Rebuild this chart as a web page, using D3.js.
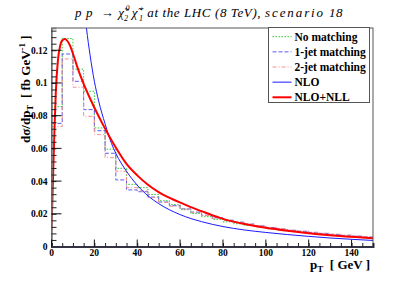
<!DOCTYPE html>
<html lang="en">
<head>
<meta charset="UTF-8">
<title>pp -> chi2 chi1 pT</title>
<style>
  body { margin: 0; background: #fff; }
  svg { display: block; }
  svg text { font-family: "Liberation Serif", "DejaVu Serif", serif; }
  svg .tick-label { font-size: 9.5px; font-weight: bold; fill: #000; }
  svg .axis-title { font-size: 13px; font-weight: bold; fill: #000; }
  svg .legend-text { font-size: 11.5px; font-weight: bold; fill: #000; }
  svg .title { font-size: 13px; font-style: italic; fill: #000; }
</style>
</head>
<body>
<div id="chart"></div>
<script src="https://cdnjs.cloudflare.com/ajax/libs/d3/7.8.5/d3.min.js"></script>
<script>
  // histogram bins (lower edges, GeV), last bin ends at 150
  var binLow = [0, 5, 10, 15, 20, 25, 30, 35, 40, 45, 50, 55, 60, 65, 70,
    75, 80, 85, 90, 95, 100, 105, 110, 115, 120, 125, 130, 135, 140, 145];
  var binHigh = 150;

  var noMatching = [0.0855, 0.1272, 0.1084, 0.0949, 0.0725, 0.0595, 0.0478, 0.0380, 0.0360, 0.0318,
    0.0280, 0.0256, 0.0225, 0.0202, 0.0182, 0.0166, 0.0151, 0.0139, 0.0129, 0.0119,
    0.0109, 0.0101, 0.0094, 0.0088, 0.0081, 0.0074, 0.0068, 0.0062, 0.0058, 0.0053];
  var oneJet = [0.0753, 0.1177, 0.1010, 0.0837, 0.0708, 0.0570, 0.0407, 0.0346, 0.0335, 0.0302,
    0.0272, 0.0250, 0.0230, 0.0210, 0.0191, 0.0176, 0.0161, 0.0149, 0.0137, 0.0126,
    0.0116, 0.0107, 0.0099, 0.0093, 0.0086, 0.0080, 0.0074, 0.0068, 0.0063, 0.0058];
  var twoJet = [0.0733, 0.1147, 0.0974, 0.0796, 0.0684, 0.0543, 0.0460, 0.0360, 0.0340, 0.0300,
    0.0270, 0.0246, 0.0229, 0.0209, 0.0190, 0.0173, 0.0159, 0.0147, 0.0137, 0.0127,
    0.0117, 0.0108, 0.0100, 0.0094, 0.0087, 0.0081, 0.0075, 0.0070, 0.0064, 0.0059];

  // smooth curves: [pT, value]
  var nloPts = [[12.5, 0.210], [14, 0.170], [15, 0.150], [16.3, 0.1336], [18, 0.117], [20, 0.101],
    [22, 0.089], [25, 0.075], [28, 0.063], [30, 0.057], [35, 0.046], [40, 0.0375],
    [45, 0.031], [50, 0.0262], [60, 0.0195], [70, 0.0152], [80, 0.0122], [90, 0.0101],
    [100, 0.0086], [110, 0.0073], [120, 0.0062], [130, 0.0052], [140, 0.0044], [150, 0.0037]];
  var nllPts = [[0, 0.010], [0.5, 0.032], [1, 0.055], [1.5, 0.076], [2, 0.094], [3, 0.114],
    [4, 0.1225], [5, 0.1260], [6.3, 0.1268], [7.5, 0.1255], [8.6, 0.1230], [10, 0.1180],
    [11, 0.1140], [12.5, 0.1080], [15, 0.0995], [18, 0.0905], [21, 0.0822], [24, 0.0745],
    [27, 0.0673], [30, 0.0605], [35, 0.0505], [40, 0.0435], [45, 0.0378], [50, 0.0333],
    [56, 0.0292], [62, 0.0258], [66, 0.0236], [70, 0.0216], [75, 0.0191], [80, 0.0169],
    [90, 0.0137], [100, 0.0114], [110, 0.0096], [120, 0.0081], [130, 0.0069], [140, 0.0059],
    [150, 0.0050]];

  var xTicks = [0, 20, 40, 60, 80, 100, 120, 140];
  var yTicks = [0, 0.02, 0.04, 0.06, 0.08, 0.1, 0.12];
  var yTickLabels = ['0', '0.02', '0.04', '0.06', '0.08', '0.1', '0.12'];

  var width = 415, height = 281;
  var plot = {left: 51.5, right: 373, top: 28, bottom: 246.5};

  var x = d3.scaleLinear().domain([0, 150]).range([plot.left, plot.right]);
  var y = d3.scaleLinear().domain([0, 0.1336]).range([plot.bottom, plot.top]);

  var svg = d3.select('#chart').append('svg')
    .attr('width', width)
    .attr('height', height);

  svg.append('defs').append('clipPath').attr('id', 'clip')
    .append('rect')
    .attr('x', plot.left).attr('y', plot.top)
    .attr('width', plot.right - plot.left).attr('height', plot.bottom - plot.top);

  var canvas = svg.append('g').attr('clip-path', 'url(#clip)');

  var stepLine = d3.line()
    .x(function(d) { return x(d[0]); })
    .y(function(d) { return y(d[1]); })
    .curve(d3.curveStepAfter);

  var histPoints = function(vals) {
    var pts = binLow.map(function(b, i) { return [b, vals[i]]; });
    pts.push([binHigh, vals[vals.length - 1]]);
    return pts;
  };

  var hists = [
    {vals: noMatching, color: '#33cc33', dash: '1.5,1.5'},
    {vals: oneJet, color: '#5c5cf0', dash: '4,2'},
    {vals: twoJet, color: '#f09090', dash: '4,2,1,2'}
  ];

  hists.forEach(function(h) {
    canvas.append('path')
      .attr('d', stepLine(histPoints(h.vals)))
      .attr('fill', 'none')
      .attr('stroke', h.color)
      .attr('stroke-width', 1)
      .attr('stroke-dasharray', h.dash);
  });

  var smooth = d3.line()
    .x(function(d) { return x(d[0]); })
    .y(function(d) { return y(d[1]); })
    .curve(d3.curveMonotoneX);

  canvas.append('path')
    .attr('d', smooth(nloPts))
    .attr('fill', 'none')
    .attr('stroke', '#1a1aff')
    .attr('stroke-width', 1);

  canvas.append('path')
    .attr('d', smooth(nllPts))
    .attr('fill', 'none')
    .attr('stroke', '#ff0000')
    .attr('stroke-width', 2);

  // frame
  svg.append('rect')
    .attr('x', plot.left).attr('y', plot.top)
    .attr('width', plot.right - plot.left).attr('height', plot.bottom - plot.top)
    .attr('fill', 'none')
    .attr('stroke', '#555')
    .attr('stroke-width', 1);

  // y axis
  var yAxis = d3.axisRight(y)
    .tickValues(d3.range(0, 0.1336, 0.004))
    .tickSize(5)
    .tickFormat('');
  var yg = svg.append('g').attr('transform', 'translate(' + plot.left + ',0)').call(yAxis);
  yg.select('.domain').attr('stroke', '#777').attr('stroke-width', 1.5);
  yg.selectAll('.tick line').attr('stroke', '#222');
  yTicks.forEach(function(t) {
    svg.append('line')
      .attr('x1', plot.left).attr('x2', plot.left + 10)
      .attr('y1', y(t)).attr('y2', y(t))
      .attr('stroke', '#111').attr('stroke-width', 1);
  });
  svg.selectAll('.ylab').data(yTicks).enter().append('text')
    .attr('class', 'tick-label')
    .attr('x', plot.left - 4)
    .attr('y', function(d) { return y(d) + 3.5; })
    .attr('text-anchor', 'end')
    .text(function(d, i) { return yTickLabels[i]; });

  // x axis
  var xAxis = d3.axisTop(x)
    .tickValues(d3.range(0, 151, 5))
    .tickSize(3.5)
    .tickFormat('');
  var xg = svg.append('g').attr('transform', 'translate(0,' + plot.bottom + ')').call(xAxis);
  xg.select('.domain').attr('stroke', '#334').attr('stroke-width', 2);
  xg.selectAll('.tick line').attr('stroke', '#222');
  xTicks.forEach(function(t) {
    svg.append('line')
      .attr('x1', x(t)).attr('x2', x(t))
      .attr('y1', plot.bottom).attr('y2', plot.bottom - 7)
      .attr('stroke', '#111').attr('stroke-width', 1);
  });
  svg.selectAll('.xlab').data(xTicks).enter().append('text')
    .attr('class', 'tick-label')
    .attr('x', function(d) { return x(d); })
    .attr('y', plot.bottom + 9)
    .attr('text-anchor', 'middle')
    .text(function(d) { return d; });

  // axis titles
  var xt = svg.append('text')
    .attr('class', 'axis-title')
    .attr('x', 370)
    .attr('y', 269)
    .attr('font-size', '12.5px')
    .attr('text-anchor', 'end');
  xt.append('tspan').text('p');
  xt.append('tspan').attr('dy', 3).attr('font-size', '9px').text('T');
  xt.append('tspan').attr('dy', -3).attr('xml:space', 'preserve').text('  [ GeV ]');

  var yt = svg.append('text')
    .attr('class', 'axis-title')
    .attr('transform', 'translate(30,143) rotate(-90)')
    .attr('text-anchor', 'start');
  yt.append('tspan').text('d\u03c3/dp');
  yt.append('tspan').attr('dy', 3).attr('font-size', '9px').text('T');
  yt.append('tspan').attr('dy', -3).attr('xml:space', 'preserve').text('  [ fb GeV');
  yt.append('tspan').attr('dy', -5).attr('font-size', '9px').text('-1');
  yt.append('tspan').attr('dy', 5).text(' ]');

  // title
  var title = svg.append('text')
    .attr('class', 'title')
    .attr('x', 75)
    .attr('y', 17)
    .attr('letter-spacing', '0.6px')
    .attr('xml:space', 'preserve');
  title.append('tspan').text('p p  \u2192 ');
  title.append('tspan').attr('letter-spacing', '0px').text('\u03c7\u0303');
  title.append('tspan').attr('dx', 1.5).attr('dy', -6).attr('font-size', '8px').text('0');
  title.append('tspan').attr('dx', -6).attr('dy', 10).attr('font-size', '8px').text('2');
  title.append('tspan').attr('dy', -4).attr('dx', 3).attr('letter-spacing', '0px').text('\u03c7\u0303');
  title.append('tspan').attr('dx', 1.5).attr('dy', -6).attr('font-size', '8px').text('+');
  title.append('tspan').attr('dx', -6).attr('dy', 10).attr('font-size', '8px').text('1');
  title.append('tspan').attr('dy', -4).text(' at the LHC (8 TeV), ');
  title.append('tspan').attr('letter-spacing', '1.9px').text('scenario');
  title.append('tspan').text(' 18');

  // legend
  var legendNames = ['No matching', '1-jet matching', '2-jet matching', 'NLO', 'NLO+NLL'];
  var legendStyles = [
    {color: '#33cc33', dash: '1.5,1.5', w: 1},
    {color: '#5c5cf0', dash: '4,2', w: 1},
    {color: '#f09090', dash: '4,2,1,2', w: 1},
    {color: '#1a1aff', dash: null, w: 1},
    {color: '#ff0000', dash: null, w: 2}
  ];
  var lg = svg.append('g');
  lg.append('rect')
    .attr('x', 268.5).attr('y', 27.5)
    .attr('width', 101).attr('height', 75)
    .attr('fill', '#fff')
    .attr('stroke', '#555')
    .attr('stroke-width', 1);
  var ly = d3.scalePoint().domain(legendNames).range([36.7, 97.3]);
  legendNames.forEach(function(name, i) {
    var s = legendStyles[i];
    lg.append('line')
      .attr('x1', 272.5).attr('x2', 291.5)
      .attr('y1', ly(name)).attr('y2', ly(name))
      .attr('stroke', s.color)
      .attr('stroke-width', s.w)
      .attr('stroke-dasharray', s.dash);
    lg.append('text')
      .attr('class', 'legend-text')
      .attr('x', 294.5)
      .attr('y', ly(name) + 4)
      .text(name);
  });
</script>
</body>
</html>
